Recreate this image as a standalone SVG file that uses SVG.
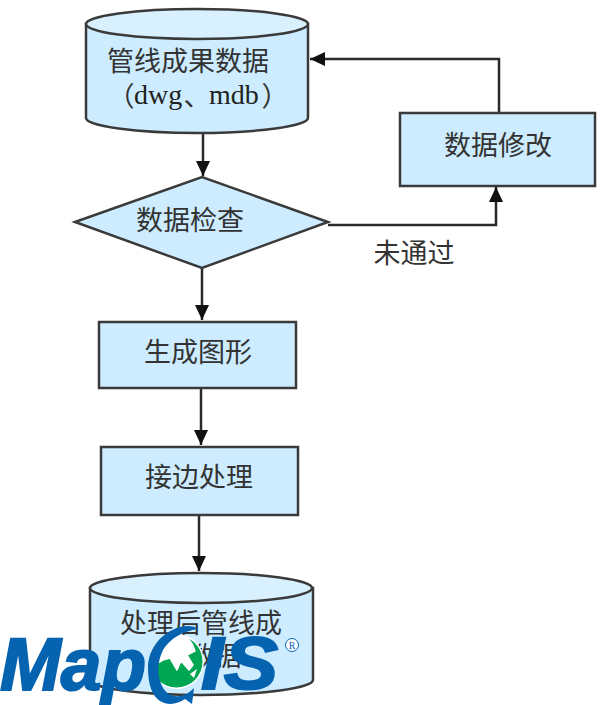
<svg xmlns="http://www.w3.org/2000/svg" width="600" height="705" viewBox="0 0 600 705">
<style>
.s{fill:#cdecff;stroke:#3a3a3a;stroke-width:2.5}
.t{fill:#d9f1ff;stroke:#3a3a3a;stroke-width:2.5}
.c{fill:none;stroke:#2a2a2a;stroke-width:2.5}
.l{font-family:"Noto Sans CJK SC","Liberation Sans",sans-serif;font-size:27px;fill:#333;text-anchor:middle}
.la{font-family:"Liberation Serif",serif;font-size:28px;fill:#222}
.b{fill:#0563b0;stroke:#0563b0;stroke-width:2;font-family:"Liberation Sans",Arial,sans-serif;font-weight:700;font-style:italic;font-size:74px}
</style>
<defs>
<marker id="a" markerUnits="userSpaceOnUse" markerWidth="16" markerHeight="16" refX="15" refY="8" orient="auto"><path d="M0 1L15 8L0 15Z" fill="#111"/></marker>
</defs>
<rect width="600" height="705" fill="#fff"/>
<g id="connectors">
<path class="c" marker-end="url(#a)" d="M203 133V176"/>
<path class="c" marker-end="url(#a)" d="M328 225H496V187"/>
<path class="c" marker-end="url(#a)" d="M499 113V59H310"/>
<path class="c" marker-end="url(#a)" d="M202 268V320"/>
<path class="c" marker-end="url(#a)" d="M201 388V445"/>
<path class="c" marker-end="url(#a)" d="M199 515V571"/>
</g>
<g id="n1">
<path class="s" d="M86 24V118C86 126 136 133 197 133S308 126 308 118V24Z"/>
<ellipse class="t" cx="197" cy="24" rx="111" ry="15"/>
<text class="l" x="188" y="71">管线成果数据</text>
<text class="l" x="121" y="106">（</text>
<text class="la" x="134" y="104">dwg</text>
<text class="l" x="197" y="106">、</text>
<text class="la" x="209" y="104">mdb</text>
<text class="l" x="275" y="106">）</text>
</g>
<g id="n2">
<path class="s" d="M75 222L202 177L328 222L202 268Z"/>
<text class="l" x="190" y="230">数据检查</text>
</g>
<g id="n3">
<rect class="s" x="400" y="113" width="195" height="73"/>
<text class="l" x="498" y="155">数据修改</text>
</g>
<g id="n4">
<text class="l" x="414" y="263">未通过</text>
</g>
<g id="n5">
<rect class="s" x="99" y="322" width="197" height="66"/>
<text class="l" x="198" y="362">生成图形</text>
</g>
<g id="n6">
<rect class="s" x="101" y="447" width="197" height="68"/>
<text class="l" x="199" y="487">接边处理</text>
</g>
<g id="n7">
<path class="s" d="M90 588V680C90 688 140 695 201 695S313 688 313 680V588Z"/>
<ellipse class="t" cx="201" cy="588" rx="111" ry="15"/>
<text class="l" x="201" y="633">处理后管线成</text>
<text class="l" x="201" y="666">果数据</text>
</g>
<g id="logo">
<text class="b" x="0" y="690" textLength="146" lengthAdjust="spacingAndGlyphs">Map</text>
<circle cx="176.500" cy="661.500" r="27.500" fill="#fff"/>
<circle cx="176.500" cy="661.500" r="26" fill="#00a651"/>
<path fill="#fff" stroke="#fff" stroke-width="1.500" stroke-linejoin="round" d="M170 637Q180 634 188 638Q193 644 195 651L187 655L193 665L189 670L181 661L177 670L170 658L163 660L156 664L160 648Z"/>
<path fill="#fff" d="M190 674L197 669L194 678Z"/>
<path fill="#0563b0" d="M198 629C192 625 186 626 180 627C162 632 148 648 148 668C148 684 152 696 160 701C168 706 178 704 185 699L192 704L194 688C190 692 186 695 180 696C172 697 166 694 162 686C156 674 158 660 163 650C170 638 184 631 198 629Z"/>
<text class="b" x="201" y="689" textLength="77" lengthAdjust="spacingAndGlyphs">IS</text>
<circle cx="292" cy="645" r="6.500" fill="#fff" stroke="#0563b0" stroke-width="1"/>
<text x="292" y="649" font-family="'Liberation Serif',serif" font-size="10" fill="#0563b0" text-anchor="middle">R</text>
</g>
</svg>
